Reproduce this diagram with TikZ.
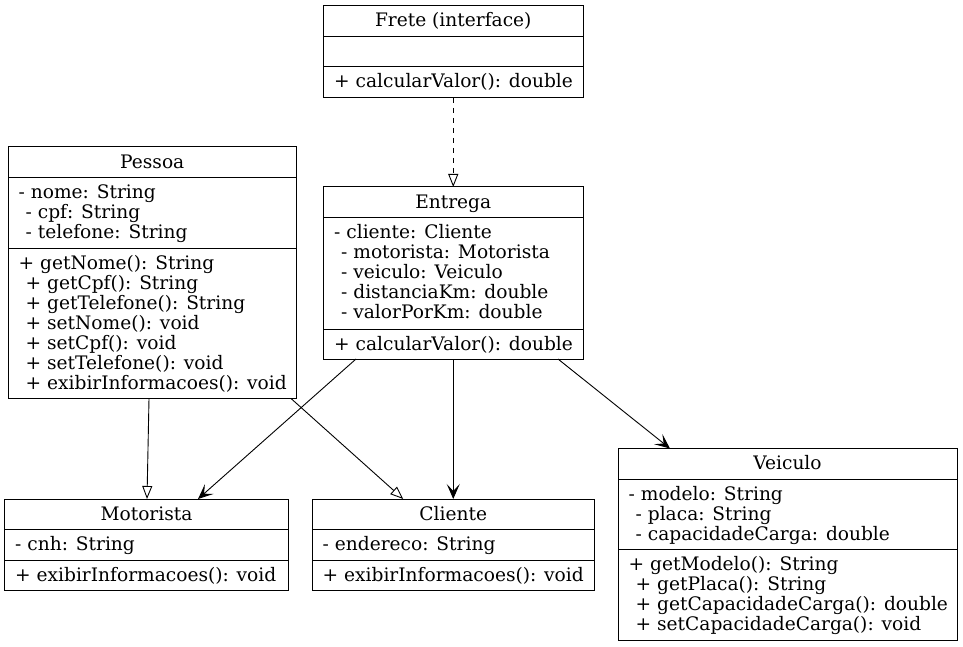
\documentclass[tikz,border=0pt]{standalone}
\usepackage{fontspec}
\setmainfont{DejaVu Serif}
\usetikzlibrary{arrows.meta}
\tikzset{
  box/.style={draw, line width=1pt, inner sep=0pt, outer sep=0pt, fill=white},
  sep/.style={line width=1pt},
  lbl/.style={anchor=base west, inner sep=0pt, font=\fontsize{18.6}{20}\selectfont},
  ttl/.style={anchor=base, inner sep=0pt, font=\fontsize{18.6}{20}\selectfont},
  inh/.style={line width=0.9pt, -{Triangle[open, length=13pt, width=10pt]}},
  real/.style={inh, dash pattern=on 5pt off 5pt},
  assoc/.style={line width=0.9pt, -{Stealth[length=15pt, width=13pt, inset=7pt]}},
}
\begin{document}
\begin{tikzpicture}[x=1pt, y=-1pt]
\useasboundingbox (0,0) rectangle (963,647);

% ---------- Frete ----------
\node[box, minimum width=259.5pt, minimum height=92pt] (frete) at (453.25,52) {};
\draw[sep] (frete.west |- 0,36.5) -- (frete.east |- 0,36.5);
\draw[sep] (frete.west |- 0,67) -- (frete.east |- 0,67);
\node[ttl] (fT) at (453.25,27) {Frete (interface)};
\node[lbl] (fm1) at (334,88) {+ calcularValor(): double};

% ---------- Pessoa ----------
\node[box, minimum width=288.5pt, minimum height=251.5pt] (pessoa) at (152.25,272.75) {};
\draw[sep] (pessoa.west |- 0,177.5) -- (pessoa.east |- 0,177.5);
\draw[sep] (pessoa.west |- 0,248) -- (pessoa.east |- 0,248);
\node[ttl] (pT) at (152.25,168.25) {Pessoa};
\node[lbl] (pa1) at (18.5,198.5) {- nome: String};
\node[lbl] (pa2) at (25.5,218.5) {- cpf: String};
\node[lbl] (pa3) at (25.5,238.5) {- telefone: String};
\node[lbl] (pm1) at (18.5,269) {+ getNome(): String};
\node[lbl] (pm2) at (25.5,289) {+ getCpf(): String};
\node[lbl] (pm3) at (25.5,309) {+ getTelefone(): String};
\node[lbl] (pm4) at (25.5,329) {+ setNome(): void};
\node[lbl] (pm5) at (25.5,349) {+ setCpf(): void};
\node[lbl] (pm6) at (25.5,369) {+ setTelefone(): void};
\node[lbl] (pm7) at (25.5,389) {+ exibirInformacoes(): void};

% ---------- Entrega ----------
\node[box, minimum width=259.5pt, minimum height=172pt] (entrega) at (453.25,273) {};
\draw[sep] (entrega.west |- 0,217) -- (entrega.east |- 0,217);
\draw[sep] (entrega.west |- 0,329) -- (entrega.east |- 0,329);
\node[ttl] (eT) at (453.25,208) {Entrega};
\node[lbl] (ea1) at (334,238) {- cliente: Cliente};
\node[lbl] (ea2) at (341,258) {- motorista: Motorista};
\node[lbl] (ea3) at (341,278) {- veiculo: Veiculo};
\node[lbl] (ea4) at (341,298) {- distanciaKm: double};
\node[lbl] (ea5) at (341,318) {- valorPorKm: double};
\node[lbl] (em1) at (334,350) {+ calcularValor(): double};

% ---------- Motorista ----------
\node[box, minimum width=284pt, minimum height=91pt] (motorista) at (146.5,544.5) {};
\draw[sep] (motorista.west |- 0,529) -- (motorista.east |- 0,529);
\draw[sep] (motorista.west |- 0,560) -- (motorista.east |- 0,560);
\node[ttl] (mT) at (146.5,520) {Motorista};
\node[lbl] (ma1) at (15,550) {- cnh: String};
\node[lbl] (mm1) at (15,581) {+ exibirInformacoes(): void};

% ---------- Cliente ----------
\node[box, minimum width=282pt, minimum height=91pt] (cliente) at (453.25,544.5) {};
\draw[sep] (cliente.west |- 0,529) -- (cliente.east |- 0,529);
\draw[sep] (cliente.west |- 0,560) -- (cliente.east |- 0,560);
\node[ttl] (cT) at (453.25,520) {Cliente};
\node[lbl] (ca1) at (322.5,550) {- endereco: String};
\node[lbl] (cm1) at (322.5,581) {+ exibirInformacoes(): void};

% ---------- Veiculo ----------
\node[box, minimum width=339pt, minimum height=192pt] (veiculo) at (787.5,544.5) {};
\draw[sep] (veiculo.west |- 0,479) -- (veiculo.east |- 0,479);
\draw[sep] (veiculo.west |- 0,549.5) -- (veiculo.east |- 0,549.5);
\node[ttl] (vT) at (787.5,469.5) {Veiculo};
\node[lbl] (va1) at (628.5,500) {- modelo: String};
\node[lbl] (va2) at (635.5,520) {- placa: String};
\node[lbl] (va3) at (635.5,540) {- capacidadeCarga: double};
\node[lbl] (vm1) at (628.5,570.5) {+ getModelo(): String};
\node[lbl] (vm2) at (635.5,590.5) {+ getPlaca(): String};
\node[lbl] (vm3) at (635.5,610.5) {+ getCapacidadeCarga(): double};
\node[lbl] (vm4) at (635.5,630.5) {+ setCapacidadeCarga(): void};

% ---------- Connectors ----------
\draw[real] (frete.south) -- (entrega.north);
\draw[inh] ([xshift=141pt]pessoa.south west) -- ([xshift=142.5pt]motorista.north west);
\draw[inh] ([xshift=283pt]pessoa.south west) -- ([xshift=91pt]cliente.north west);
\draw[assoc] ([xshift=32.5pt]entrega.south west) -- ([xshift=193.5pt]motorista.north west);
\draw[assoc] (entrega.south) -- (cliente.north);
\draw[assoc] ([xshift=234.5pt]entrega.south west) -- ([xshift=52pt]veiculo.north west);
\end{tikzpicture}
\end{document}
